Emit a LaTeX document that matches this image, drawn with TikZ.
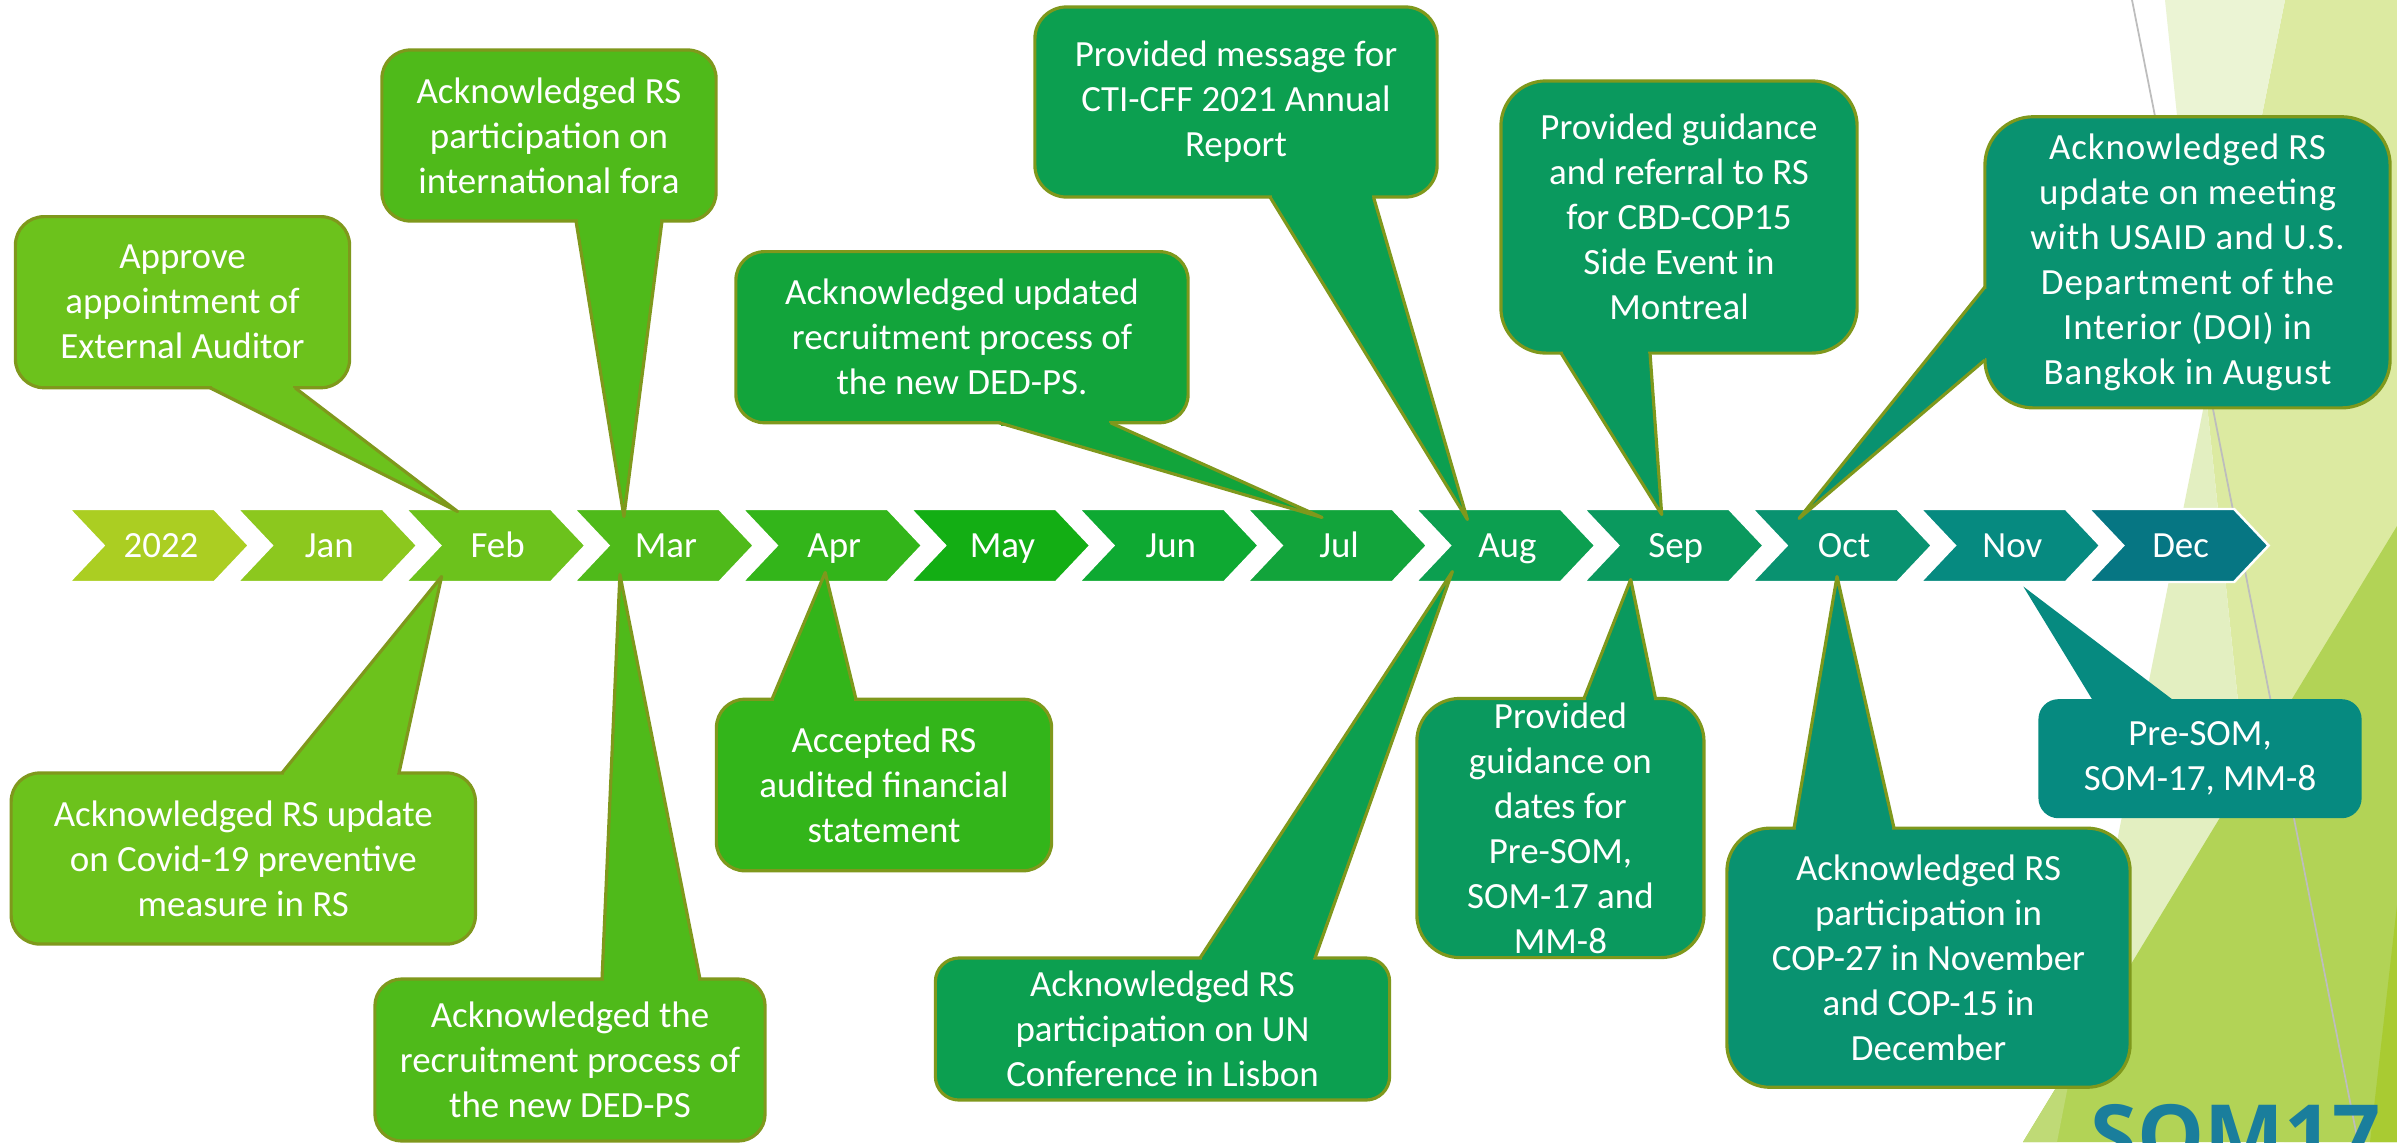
\documentclass[tikz,border=0pt]{standalone}
\usepackage{fontspec}
\setmainfont{Carlito}
\newfontfamily\gillf[LetterSpace=2.5]{Carlito}
\newfontfamily\logof{Open Sans}
\usetikzlibrary{calc}
\definecolor{c22}{HTML}{ABCE22}
\definecolor{cjan}{HTML}{8CC81E}
\definecolor{cfeb}{HTML}{6CC21C}
\definecolor{cmar}{HTML}{4FBA1A}
\definecolor{capr}{HTML}{33B51A}
\definecolor{cmay}{HTML}{13AE14}
\definecolor{cjun}{HTML}{0EA932}
\definecolor{cjul}{HTML}{12A43B}
\definecolor{caug}{HTML}{0C9F50}
\definecolor{csep}{HTML}{0A995E}
\definecolor{coct}{HTML}{099270}
\definecolor{cnov}{HTML}{068A80}
\definecolor{cdec}{HTML}{067683}
\definecolor{olivel}{HTML}{7F981C}
\definecolor{bgA}{HTML}{EBF4D4}
\definecolor{bgB}{HTML}{DCEAA1}
\definecolor{bgC}{HTML}{E3EFC1}
\definecolor{bgD}{HTML}{B2D356}
\definecolor{bgDD}{HTML}{BFDA76}
\definecolor{bgE}{HTML}{A9CB32}
\definecolor{lineg}{HTML}{BDBDBD}
\definecolor{logob}{HTML}{1A7E9C}
\tikzset{
  chev/.style={font=\fontsize{10.5}{12.8}\selectfont, text=white, inner sep=0pt, text height=6.8pt, text depth=0pt},
  chevshape/.style={draw=white, line width=0.7pt},
  cbox/.style={draw=olivel, line width=0.9pt, text=white, align=center, inner sep=0pt, outer sep=0pt,
    font=\fontsize{10.5}{12.8}\selectfont},
  side/.style={draw=olivel, line width=0.9pt, line join=round},
  logo/.style={anchor=base west, inner sep=0pt, text=logob, font=\logof\bfseries\fontsize{24}{24}\selectfont},
}
% pointer on the bottom or top edge of a box: node, x1, x2, month node, tip offset, colour, edge anchor
\newcommand\ptrh[7]{%
  \coordinate (#1-a) at (#2,0 |- #1.#7);
  \coordinate (#1-b) at (#3,0 |- #1.#7);
  \coordinate (#1-t) at ($(#4)+(#5)$);
  \fill[#6] (#1-a) -- (#1-t) -- (#1-b) -- cycle;
  \fill[#6] ($(#1-a)+(2,-3)$) rectangle ($(#1-b)+(-2,3)$);
  \draw[side] (#1-a) -- (#1-t) -- (#1-b);
}
\begin{document}
\begin{tikzpicture}[x=0.01cm,y=-0.01cm]
\useasboundingbox (0,0) rectangle (2397,1142);
\clip (0,0) rectangle (2397,1142);
\fill[white] (0,0) rectangle (2397,1142);
% background facets
\fill[bgB] (2285,0) -- (2397,0) -- (2397,1142) -- (2284,1142) -- (2206,395) -- cycle;
\fill[bgA] (2165,0) -- (2285,0) -- (2206,395) -- cycle;
\fill[bgC] (2206,395) -- (2284,1142) -- (2057,1142) -- cycle;
\fill[bgD] (2397,526) -- (2397,1142) -- (2023,1142) -- cycle;
\fill[bgDD] (2073,1060) -- (2057,1142) -- (2023,1142) -- cycle;
\fill[bgE] (2397,905) -- (2397,1142) -- (2370,1142) -- cycle;
\draw[lineg, line width=0.5pt] (2132,0) -- (2358,1142);
\node[logo] (logo) at (2090,1165) {SOM17};
% timeline
\foreach \lab/\nm/\col [count=\i from 0] in {2022/y22/c22, Jan/jan/cjan, Feb/feb/cfeb, Mar/mar/cmar, Apr/apr/capr, May/may/cmay, Jun/jun/cjun, Jul/jul/cjul, Aug/aug/caug, Sep/sep/csep, Oct/oct/coct, Nov/nov/cnov, Dec/dec/cdec}{
  \fill[\col, chevshape] ({69+168.3*\i},509) -- ++(145.5,0) -- ++(34.5,36.5) -- ++(-34.5,36.5) -- ++(-145.5,0) -- ++(34.5,-36.5) -- cycle;
  \node[chev] (\nm) at ({161+168.3*\i},545.5) {\lab};
}
% callouts above
\node[cbox, fill=cfeb, minimum width=3.34cm, minimum height=1.71cm, rounded corners=2.85mm] (appr) at (182.5,302.2) {Approve\\appointment of\\External Auditor};
\ptrh{appr}{210}{295}{feb}{-40,-34}{cfeb}{south}
\node[cbox, fill=cmar, minimum width=3.34cm, minimum height=1.71cm, rounded corners=2.85mm] (fora) at (549,135.5) {Acknowledged RS\\participation on\\international fora};
\ptrh{fora}{576}{662}{mar}{-42,-29}{cmar}{south}
\node[cbox, fill=caug, minimum width=4.02cm, minimum height=1.90cm, rounded corners=3.17mm] (cti) at (1236,102) {Provided message for\\CTI-CFF 2021 Annual\\Report};
\ptrh{cti}{1270}{1373.5}{aug}{-40,-26}{caug}{south}
\node[cbox, fill=cjul, minimum width=4.52cm, minimum height=1.71cm, rounded corners=2.85mm] (upd) at (962,337.2) {Acknowledged updated\\recruitment process of\\the new DED-PS.};
\ptrh{upd}{999}{1110.5}{jul}{-17,-28}{cjul}{south}
\node[cbox, fill=csep, minimum width=3.56cm, minimum height=2.72cm, rounded corners=4.5mm] (mont) at (1679,217) {Provided guidance\\and referral to RS\\for CBD-COP15\\Side Event in\\Montreal};
\ptrh{mont}{1561}{1650}{sep}{-14,-31}{csep}{south}
\node[cbox, fill=coct, minimum width=4.05cm, minimum height=2.91cm, rounded corners=4.85mm, font=\gillf\fontsize{10.5}{12.8}\selectfont] (usaid) at (2187.5,262.3) {Acknowledged RS\\update on meeting\\with USAID and U.S.\\Department of the\\Interior (DOI) in\\Bangkok in August};
\coordinate (usaid-a) at (usaid.west |- 0,287);
\coordinate (usaid-b) at (usaid.west |- 0,360);
\coordinate (usaid-t) at ($(oct)+(-45,-27)$);
\fill[coct] (usaid-a) -- (usaid-t) -- (usaid-b) -- cycle;
\fill[coct] ($(usaid-a)+(-3,2)$) rectangle ($(usaid-b)+(3,-2)$);
\draw[side] (usaid-a) -- (usaid-t) -- (usaid-b);
% callouts below
\node[cbox, fill=cfeb, minimum width=4.64cm, minimum height=1.71cm, rounded corners=2.85mm] (covid) at (243.3,858.5) {Acknowledged RS update\\on Covid-19 preventive\\measure in RS};
\ptrh{covid}{282}{399}{feb}{-56,31}{cfeb}{north}
\node[cbox, fill=cmar, minimum width=3.90cm, minimum height=1.62cm, rounded corners=2.7mm] (recr) at (570,1060) {Acknowledged the\\recruitment process of\\the new DED-PS};
\ptrh{recr}{602}{700}{mar}{-46,29}{cmar}{north}
\node[cbox, fill=capr, minimum width=3.35cm, minimum height=1.715cm, rounded corners=2.85mm] (acc) at (884,785) {Accepted RS\\audited financial\\statement};
\ptrh{acc}{772}{856}{apr}{-9,27}{capr}{north}
\node[cbox, fill=caug, minimum width=4.54cm, minimum height=1.42cm, rounded corners=2.37mm] (lisb) at (1162.5,1029) {Acknowledged RS\\participation on UN\\Conference in Lisbon};
\ptrh{lisb}{1200}{1315}{aug}{-55,26}{caug}{north}
\node[cbox, fill=csep, minimum width=2.87cm, minimum height=2.59cm, rounded corners=4.3mm] (dates) at (1560.4,828) {Provided\\guidance on\\dates for\\Pre-SOM,\\SOM-17 and\\MM-8};
\ptrh{dates}{1584}{1655.5}{sep}{-45,34}{csep}{north}
\node[cbox, fill=coct, minimum width=4.03cm, minimum height=2.59cm, rounded corners=4.3mm] (cop) at (1928.5,957.7) {Acknowledged RS\\participation in\\COP-27 in November\\and COP-15 in\\December};
\ptrh{cop}{1794}{1894}{oct}{-7,31}{coct}{north}
\node[cbox, draw=none, fill=cnov, minimum width=3.23cm, minimum height=1.19cm, rounded corners=2mm] (pres) at (2200,758.7) {Pre-SOM,\\SOM-17, MM-8};
\coordinate (pres-a) at (2092,0 |- pres.north);
\coordinate (pres-b) at (2172,0 |- pres.north);
\coordinate (pres-t) at ($(nov)+(11,41)$);
\fill[cnov] (pres-a) -- (pres-t) -- (pres-b) -- cycle;
\end{tikzpicture}
\end{document}
